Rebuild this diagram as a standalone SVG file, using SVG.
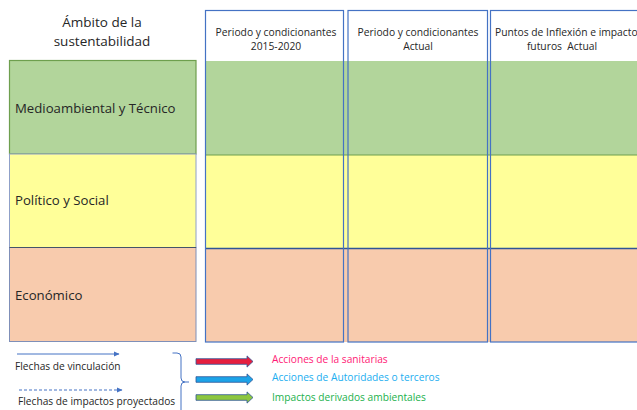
<svg xmlns="http://www.w3.org/2000/svg" width="637" height="410" viewBox="0 0 637 410">
<style>
text{font-family:"Open Sans","Liberation Sans",sans-serif;fill:#262626}
.hdr{font-size:10.3px;text-anchor:middle}
.ttl{font-size:13.5px;text-anchor:middle}
.row{font-size:13.2px}
.leg{font-size:10.2px}
.g{fill:#B2D59B}
.y{fill:#FFFF99}
.o{fill:#F8CBAD}
.col{fill:none;stroke:#4472C4;stroke-width:1.2}
.lk{stroke:#4472C4;stroke-width:1;fill:none}
</style>
<defs>
<marker id="ah" markerWidth="6" markerHeight="6" refX="5" refY="3" orient="auto" markerUnits="userSpaceOnUse">
<path d="M0,0.5 L5.5,3 L0,5.5 Z" fill="#4472C4"/>
</marker>
<path id="blk" d="M0,-2.8 H51 V-5.6 L57,0 L51,5.6 V2.8 H0 Z"/>
</defs>
<rect width="637" height="410" fill="#ffffff"/>

<g id="title">
<text class="ttl" x="102" y="27">Ámbito de la</text>
<text class="ttl" x="102" y="46">sustentabilidad</text>
</g>

<g id="grid">
<rect class="g" x="206" y="61" width="434" height="94"/>
<rect class="y" x="206" y="155" width="434" height="93"/>
<rect class="o" x="206" y="248" width="434" height="94"/>
<line x1="206" y1="155" x2="640" y2="155" stroke="#6E9F4E" stroke-width="1.2"/>
<line x1="206" y1="248.5" x2="640" y2="248.5" stroke="#2F5597" stroke-width="1.5"/>
</g>

<g id="col1">
<rect class="col" x="205.5" y="10.5" width="138" height="331.5"/>
<text class="hdr" x="276" y="36">Periodo y condicionantes</text>
<text class="hdr" x="276" y="50">2015-2020</text>
</g>
<g id="col2">
<rect class="col" x="348" y="10.5" width="139.5" height="331.5"/>
<text class="hdr" x="418" y="36">Periodo y condicionantes</text>
<text class="hdr" x="418" y="50">Actual</text>
</g>
<g id="col3">
<rect class="col" x="490.5" y="10.5" width="160" height="331.5"/>
<text class="hdr" x="495" y="36" style="text-anchor:start">Puntos de Inflexión e impacto</text>
<text class="hdr" x="562" y="50" xml:space="preserve">futuros  Actual</text>
</g>

<g id="medioambiental">
<rect x="9.5" y="60.5" width="186.5" height="93.5" fill="#B2D59B" stroke="#6E9F4E" stroke-width="1.2"/>
<text class="row" x="15" y="113">Medioambiental y Técnico</text>
</g>
<g id="politico">
<rect x="9.5" y="154" width="186.5" height="93.5" fill="#FFFF99" stroke="#8FA0C8" stroke-width="1"/>
<text class="row" x="15" y="205">Político y Social</text>
</g>
<g id="economico">
<rect x="9.5" y="247.5" width="186.5" height="94" fill="#F8CBAD" stroke="#7F8FB8" stroke-width="1"/>
<line x1="9.5" y1="247.5" x2="196" y2="247.5" stroke="#44546A" stroke-width="1.2"/>
<text class="row" x="15" y="300">Económico</text>
</g>

<g id="connectors">
<line class="lk" x1="17" y1="354" x2="119" y2="354" marker-end="url(#ah)"/>
<line class="lk" x1="19" y1="390" x2="122" y2="390" stroke-dasharray="3,2" marker-end="url(#ah)"/>
<path d="M172.5,353 H177 Q181,353 181,357 V378 Q181,382 185,382 H189 M185,382 Q181,382 181,386 V410" fill="none" stroke="#4472C4" stroke-width="1"/>
<use href="#blk" x="196" y="361.5" fill="#E51E3E" stroke="#2F5597" stroke-width="0.8"/>
<use href="#blk" x="196" y="379.5" fill="#1CA3E8" stroke="#2F5597" stroke-width="0.8"/>
<use href="#blk" x="196" y="397.5" fill="#8CC63F" stroke="#2F5597" stroke-width="0.8"/>
</g>

<g id="legend">
<text class="leg" x="15" y="370">Flechas de vinculación</text>
<text class="leg" x="18" y="405">Flechas de impactos proyectados</text>
<text class="leg" x="272" y="363" style="fill:#FF1A75">Acciones de la sanitarias</text>
<text class="leg" x="272" y="381" style="fill:#1AAEF0">Acciones de Autoridades o terceros</text>
<text class="leg" x="272" y="401" style="fill:#22B14C">Impactos derivados ambientales</text>
</g>
</svg>
